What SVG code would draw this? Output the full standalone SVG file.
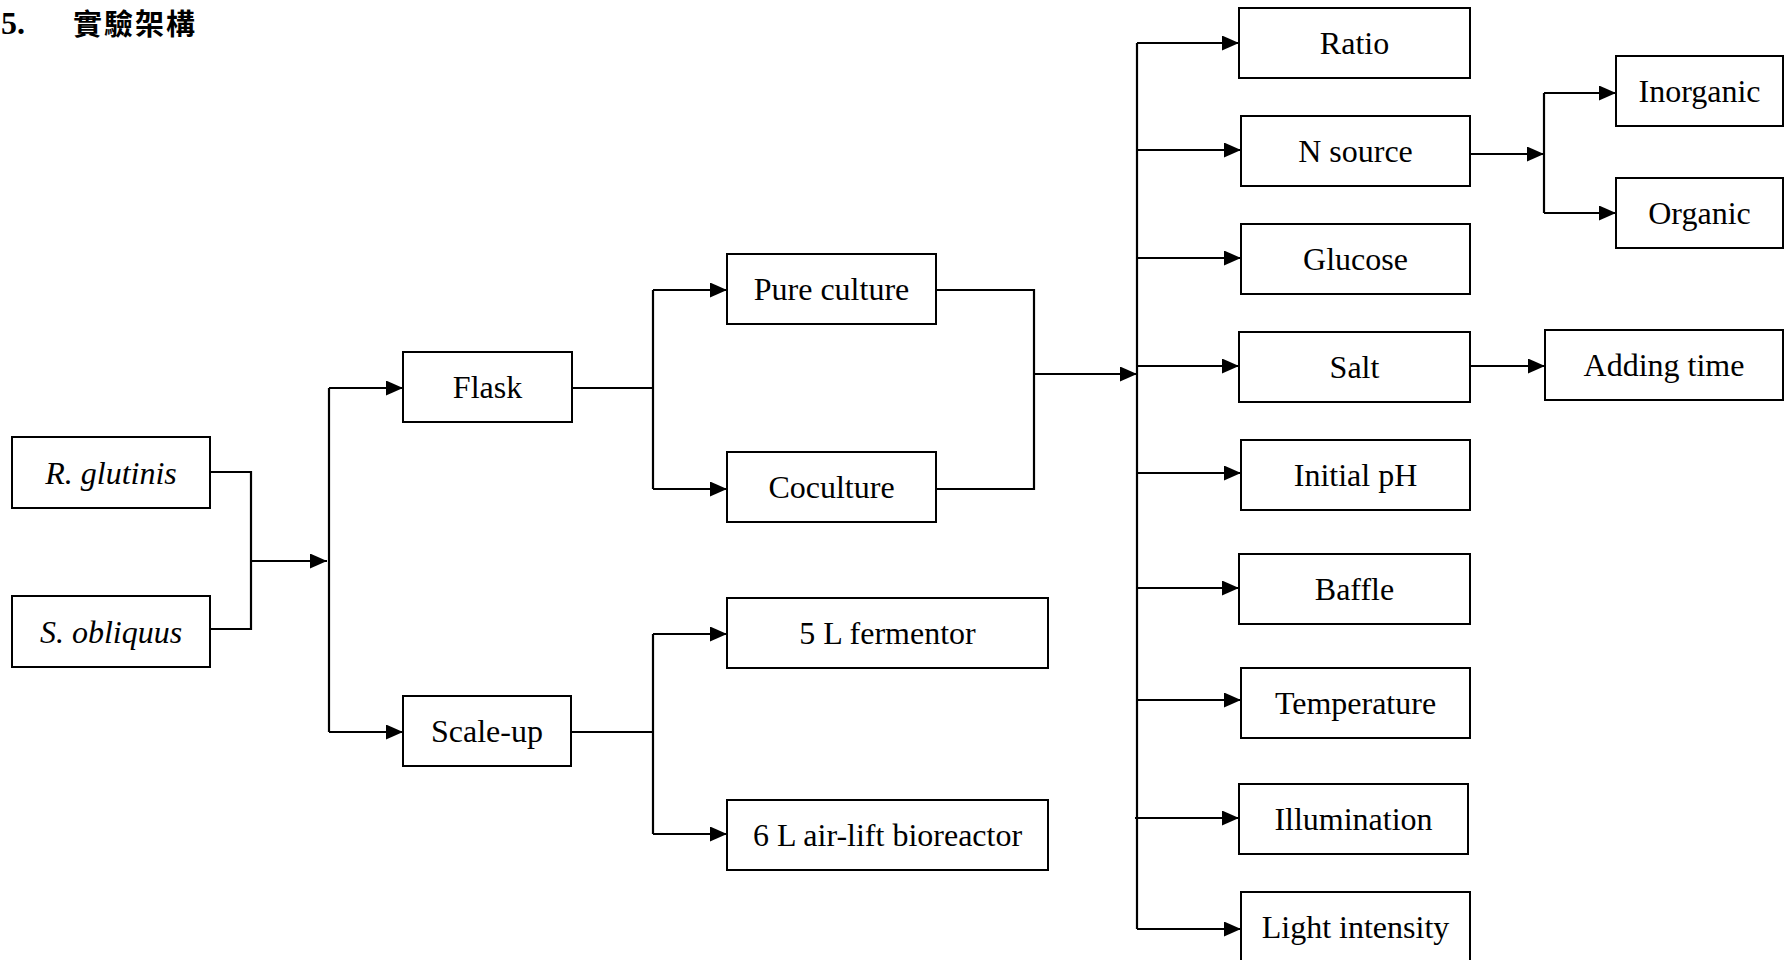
<svg xmlns="http://www.w3.org/2000/svg" width="1784" height="960" viewBox="0 0 1784 960">
<style>
.box{fill:#fff;stroke:#000;stroke-width:2}
.t{font-family:"Liberation Serif","Times New Roman",serif;font-size:32px;text-anchor:middle;fill:#000}
.i{font-style:italic}
.c{fill:none;stroke:#000;stroke-width:2.2}
.a{fill:none;stroke:#000;stroke-width:2.2;marker-end:url(#ah)}
</style>
<defs>
<marker id="ah" markerUnits="userSpaceOnUse" markerWidth="17" markerHeight="15" refX="17" refY="7.5" orient="auto">
<path d="M0,0 L17,7.5 L0,15 z" fill="#000"/>
</marker>
</defs>
<rect width="1784" height="960" fill="#fff"/>
<g id="title">
<text x="1" y="34" font-family="Liberation Serif, serif" font-weight="bold" font-size="32">5.</text>
<text x="73" y="35" font-family="Liberation Serif, 'Noto Sans CJK TC', sans-serif" font-weight="bold" font-size="29" letter-spacing="2">實驗架構</text>
</g>
<g id="connectors">
<path class="c" d="M210,472 H251 V629 H210"/>
<path class="a" d="M251,561 H327"/>
<path class="c" d="M329,388 V732"/>
<path class="a" d="M329,388 H403"/>
<path class="a" d="M329,732 H403"/>
<path class="c" d="M572,388 H653 M653,290 V489"/>
<path class="a" d="M653,290 H727"/>
<path class="a" d="M653,489 H727"/>
<path class="c" d="M571,732 H653 M653,634 V834"/>
<path class="a" d="M653,634 H727"/>
<path class="a" d="M653,834 H727"/>
<path class="c" d="M936,290 H1034 V489 H936"/>
<path class="a" d="M1034,374 H1137"/>
<path class="c" d="M1137,43 V929"/>
<path class="a" d="M1137,43 H1239"/>
<path class="a" d="M1137,150 H1241"/>
<path class="a" d="M1137,258 H1241"/>
<path class="a" d="M1137,366 H1239"/>
<path class="a" d="M1137,473 H1241"/>
<path class="a" d="M1137,588 H1239"/>
<path class="a" d="M1137,700 H1241"/>
<path class="a" d="M1135,818 H1239"/>
<path class="a" d="M1137,929 H1241"/>
<path class="a" d="M1470,154 H1544"/>
<path class="c" d="M1544,93 V213"/>
<path class="a" d="M1544,93 H1616"/>
<path class="a" d="M1544,213 H1616"/>
<path class="a" d="M1470,366 H1545"/>
</g>
<g id="n-rglutinis"><rect class="box" x="12" y="437" width="198" height="71"/><text class="t i" x="111" y="484">R. glutinis</text></g>
<g id="n-sobliquus"><rect class="box" x="12" y="596" width="198" height="71"/><text class="t i" x="111" y="643">S. obliquus</text></g>
<g id="n-flask"><rect class="box" x="403" y="352" width="169" height="70"/><text class="t" x="487.5" y="398">Flask</text></g>
<g id="n-scaleup"><rect class="box" x="403" y="696" width="168" height="70"/><text class="t" x="487" y="742">Scale-up</text></g>
<g id="n-pure"><rect class="box" x="727" y="254" width="209" height="70"/><text class="t" x="831.5" y="300">Pure culture</text></g>
<g id="n-coculture"><rect class="box" x="727" y="452" width="209" height="70"/><text class="t" x="831.5" y="498">Coculture</text></g>
<g id="n-5l"><rect class="box" x="727" y="598" width="321" height="70"/><text class="t" x="887.5" y="644">5 L fermentor</text></g>
<g id="n-6l"><rect class="box" x="727" y="800" width="321" height="70"/><text class="t" x="887.5" y="846">6 L air-lift bioreactor</text></g>
<g id="n-ratio"><rect class="box" x="1239" y="8" width="231" height="70"/><text class="t" x="1354.5" y="54">Ratio</text></g>
<g id="n-nsource"><rect class="box" x="1241" y="116" width="229" height="70"/><text class="t" x="1355.5" y="162">N source</text></g>
<g id="n-glucose"><rect class="box" x="1241" y="224" width="229" height="70"/><text class="t" x="1355.5" y="270">Glucose</text></g>
<g id="n-salt"><rect class="box" x="1239" y="332" width="231" height="70"/><text class="t" x="1354.5" y="378">Salt</text></g>
<g id="n-ph"><rect class="box" x="1241" y="440" width="229" height="70"/><text class="t" x="1355.5" y="486">Initial pH</text></g>
<g id="n-baffle"><rect class="box" x="1239" y="554" width="231" height="70"/><text class="t" x="1354.5" y="600">Baffle</text></g>
<g id="n-temp"><rect class="box" x="1241" y="668" width="229" height="70"/><text class="t" x="1355.5" y="714">Temperature</text></g>
<g id="n-illum"><rect class="box" x="1239" y="784" width="229" height="70"/><text class="t" x="1353.5" y="830">Illumination</text></g>
<g id="n-light"><rect class="box" x="1241" y="892" width="229" height="70"/><text class="t" x="1355.5" y="938">Light intensity</text></g>
<g id="n-inorganic"><rect class="box" x="1616" y="56" width="167" height="70"/><text class="t" x="1699.5" y="102">Inorganic</text></g>
<g id="n-organic"><rect class="box" x="1616" y="178" width="167" height="70"/><text class="t" x="1699.5" y="224">Organic</text></g>
<g id="n-adding"><rect class="box" x="1545" y="330" width="238" height="70"/><text class="t" x="1664" y="376">Adding time</text></g>
</svg>
